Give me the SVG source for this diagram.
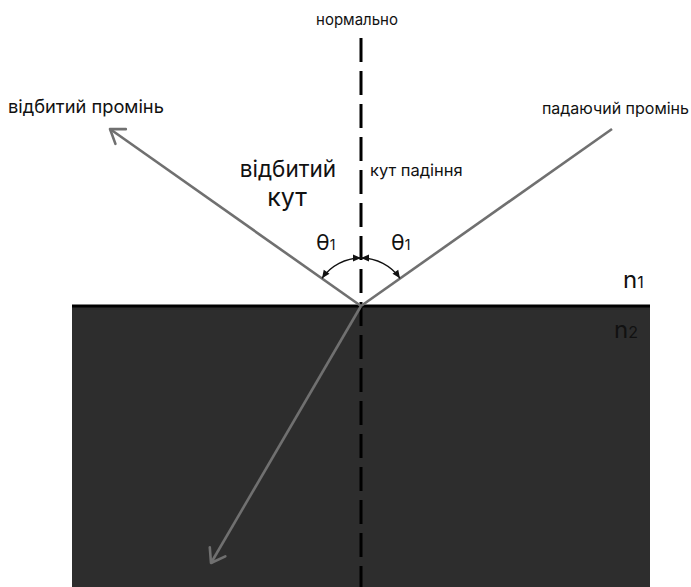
<svg xmlns="http://www.w3.org/2000/svg" width="691" height="587" viewBox="0 0 691 587">
<defs>
<style>
.t{font-family:Inter,"Noto Sans",sans-serif;fill:#111}
.ray{stroke:#707070;stroke-width:2.6;fill:none}
.normal{stroke:#000;stroke-width:3;stroke-dasharray:24 9;fill:none}
.arc{stroke:#111;stroke-width:1.3;fill:none}
</style>
<marker id="open" markerUnits="userSpaceOnUse" markerWidth="30" markerHeight="30" viewBox="-20 -15 30 30" refX="0" refY="0" orient="auto">
<path d="M-13,-9 L0,0 L-13,9" fill="none" stroke="#707070" stroke-width="2.6" stroke-linecap="round" stroke-linejoin="round"/>
</marker>
<marker id="tri" markerUnits="userSpaceOnUse" markerWidth="14" markerHeight="14" viewBox="-10 -6 14 12" refX="0" refY="0" orient="auto-start-reverse">
<path d="M-8,-3.5 L0,0 L-8,3.5 Z" fill="#111"/>
</marker>
</defs>
<g id="medium2">
<rect x="72" y="306" width="578" height="281" fill="#2d2d2d"/>
<line x1="72" y1="306" x2="650" y2="306" stroke="#000" stroke-width="3"/>
</g>
<g id="connectors">
<line id="normal" class="normal" x1="361" y1="38" x2="361" y2="587"/>
<line id="incident" class="ray" x1="612" y1="129" x2="361" y2="306"/>
<line id="reflected" class="ray" x1="361" y1="306" x2="110" y2="129" marker-end="url(#open)"/>
<line id="refracted" class="ray" x1="361" y1="306" x2="211" y2="563" marker-end="url(#open)"/>
<path id="arc-left" class="arc" d="M322,278.3 A48,48 0 0 1 361,258" marker-start="url(#tri)" marker-end="url(#tri)"/>
<path id="arc-right" class="arc" d="M361,258 A48,48 0 0 1 400,278.3" marker-start="url(#tri)" marker-end="url(#tri)"/>
</g>
<g id="label-normal"><text class="t" x="357" y="25" font-size="15" text-anchor="middle">нормально</text></g>
<g id="label-reflected-ray"><text class="t" x="8" y="113" font-size="18.3">відбитий промінь</text></g>
<g id="label-incident-ray"><text class="t" x="689" y="114" font-size="16" text-anchor="end">падаючий промінь</text></g>
<g id="label-reflected-angle">
<text class="t" x="288" y="177" font-size="22.5" text-anchor="middle">відбитий</text>
<text class="t" x="287" y="206" font-size="25" text-anchor="middle">кут</text>
</g>
<g id="label-incidence-angle"><text class="t" x="370" y="176" font-size="16.5">кут падіння</text></g>
<g id="theta-left"><text class="t" x="316" y="250" font-size="22">θ<tspan font-size="14">1</tspan></text></g>
<g id="theta-right"><text class="t" x="391" y="250" font-size="22">θ<tspan font-size="14">1</tspan></text></g>
<g id="n1"><text class="t" x="623" y="288" font-size="24">n<tspan font-size="16">1</tspan></text></g>
<g id="n2"><text x="614" y="338" font-size="24" style="font-family:Inter,'Noto Sans',sans-serif;fill:#111">n<tspan font-size="16">2</tspan></text></g>
</svg>
